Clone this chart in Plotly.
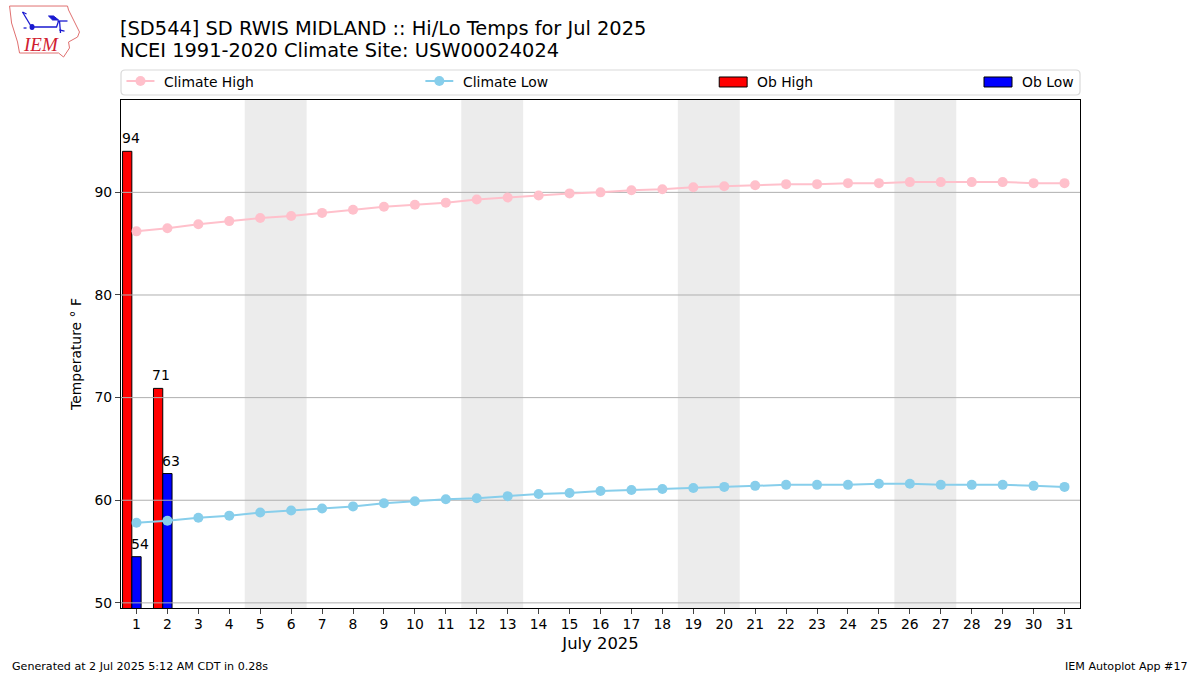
import pandas as pd
import plotly.graph_objects as go

def px(x, y):
    # Pixel position on the page to paper coordinates of the plot area
    return (x - 120.5) / 959.5, (608 - y) / 508

def path(points, close=False):
    parts = ["%s%.4f,%.4f" % ("L" if i else "M", *px(*p)) for i, p in enumerate(points)]
    return " ".join(parts) + (" Z" if close else "")

def exec(df):
    fig = go.Figure()

    # Weekends get a grey band behind everything
    for day in [5, 12, 19, 26]:
        fig.add_vrect(x0=day - 0.5, x1=day + 1.5, fillcolor='#ececec', line_width=0, layer='below')

    # Grid as lines so that it sits above the bars but below the climate lines
    for temp in [50, 60, 70, 80, 90]:
        fig.add_trace(go.Scatter(
            x=[0.5, 31.5],
            y=[temp, temp],
            mode='lines',
            line=dict(color='#b0b0b0', width=1),
            showlegend=False,
            hoverinfo='skip'
        ))

    # Add climate lines
    fig.add_trace(go.Scatter(
        x=df['day'],
        y=df['climate_high'],
        name='Climate High',
        mode='lines+markers',
        line=dict(color='pink', width=2),
        marker=dict(color='pink', size=10),
        showlegend=False
    ))
    fig.add_trace(go.Scatter(
        x=df['day'],
        y=df['climate_low'],
        name='Climate Low',
        mode='lines+markers',
        line=dict(color='skyblue', width=2),
        marker=dict(color='skyblue', size=10),
        showlegend=False
    ))

    # Add bars for the observations
    fig.add_trace(go.Bar(
        x=df['day'],
        y=df['ob_high'],
        name='Ob High',
        width=0.3,
        offset=-0.45,
        base=0,
        marker=dict(color='red', line=dict(color='black', width=1)),
        showlegend=False
    ))
    fig.add_trace(go.Bar(
        x=df['day'],
        y=df['ob_low'],
        name='Ob Low',
        width=0.3,
        offset=-0.15,
        base=0,
        marker=dict(color='blue', line=dict(color='black', width=1)),
        showlegend=False
    ))

    # Value labels sit on the left corner of each bar
    for day, high, low in zip(df['day'], df['ob_high'], df['ob_low']):
        if pd.isna(high):
            continue
        for value, left in [(high, day - 0.45), (low, day - 0.15)]:
            fig.add_annotation(
                x=left, y=value,
                text="%.0f" % value,
                showarrow=False,
                xanchor='left', yanchor='bottom',
                xshift=-3, yshift=3,
                font=dict(size=14, color='black')
            )

    fig.update_layout(
        title=dict(
            text='[SD544] SD RWIS MIDLAND :: Hi/Lo Temps for Jul 2025',
            font=dict(size=19.4, color='black'),
            x=0.1,
            xanchor='left',
            y=0.968,
            yanchor='top'
        ),
        xaxis=dict(
            title=dict(text='July 2025', font=dict(size=16.4), standoff=6),
            range=[0.5, 31.5],
            tickvals=list(df['day']),
            ticks='outside',
            ticklen=5,
            ticklabelstandoff=-2,
            showgrid=False,
            zeroline=False,
            showline=True,
            linecolor='black',
            mirror=True
        ),
        yaxis=dict(
            title=dict(text='Temperature ° F', font=dict(size=13.9), standoff=9),
            range=[49.5, 99],
            tickvals=[50, 60, 70, 80, 90],
            ticks='outside',
            ticklen=5,
            showgrid=False,
            zeroline=False,
            showline=True,
            linecolor='black',
            mirror=True
        ),
        font=dict(family='DejaVu Sans', size=13.9, color='black'),
        plot_bgcolor='white',
        paper_bgcolor='white',
        barmode='overlay',
        margin=dict(t=100, l=120.5, r=120, b=67),
        width=1200,
        height=675
    )

    # Second title line
    fig.add_annotation(
        text='NCEI 1991-2020 Climate Site: USW00024024',
        xref='paper', yref='paper',
        x=0, y=px(0, 51)[1],
        xanchor='left', yanchor='middle',
        xshift=-3,
        showarrow=False,
        font=dict(size=19.4)
    )

    # Legend frame with round corners, one row of four entries
    x0, y0 = px(120.5, 95)
    x1, y1 = px(1080, 70)
    rx, ry = 4 / 959.5, 4 / 508
    fig.add_shape(
        type='path',
        path="M%.4f,%.4f L%.4f,%.4f Q%.4f,%.4f %.4f,%.4f L%.4f,%.4f Q%.4f,%.4f %.4f,%.4f "
             "L%.4f,%.4f Q%.4f,%.4f %.4f,%.4f L%.4f,%.4f Q%.4f,%.4f %.4f,%.4f Z" % (
                 x0 + rx, y0, x1 - rx, y0, x1, y0, x1, y0 + ry,
                 x1, y1 - ry, x1, y1, x1 - rx, y1,
                 x0 + rx, y1, x0, y1, x0, y1 - ry,
                 x0, y0 + ry, x0, y0, x0 + rx, y0),
        xref='paper', yref='paper',
        line=dict(color='#d9d9d9', width=1.2)
    )
    for name, left, color, kind in [('Climate High', 126, 'pink', 'line'),
                                    ('Climate Low', 425, 'skyblue', 'line'),
                                    ('Ob High', 719, 'red', 'bar'),
                                    ('Ob Low', 984, 'blue', 'bar')]:
        if kind == 'line':
            fig.add_shape(type='path', path=path([(left, 81), (left + 28, 81)]),
                          xref='paper', yref='paper', line=dict(color=color, width=2))
            fig.add_shape(type='circle', x0=px(left + 9, 0)[0], x1=px(left + 19, 0)[0],
                          y0=px(0, 86)[1], y1=px(0, 76)[1],
                          xref='paper', yref='paper', fillcolor=color, line_width=0)
        else:
            fig.add_shape(type='path', path=path([(left, 77), (left + 28, 77), (left + 28, 87), (left, 87)], close=True),
                          xref='paper', yref='paper', fillcolor=color, line=dict(color='black', width=1))
        fig.add_annotation(
            text=name,
            xref='paper', yref='paper',
            x=px(left + 36, 0)[0], y=px(0, 82)[1],
            xanchor='left', yanchor='middle',
            showarrow=False,
            font=dict(size=13.9)
        )

    # Logo in the top left corner
    outline = [(9, 6), (67, 6), (68, 10), (73, 20), (79, 32), (77, 37), (68, 42), (69, 48),
               (63, 57), (58, 53), (19, 53), (17, 42), (11, 23)]
    fig.add_shape(type='path', path=path(outline, close=True), xref='paper', yref='paper',
                  line=dict(color='#e07070', width=1))
    for piece in [[(31, 27), (56, 27), (58, 21)], [(57, 21), (67, 21)], [(59, 21), (60, 33)],
                  [(59, 30), (64, 31)], [(22, 12), (31, 27)], [(22, 12), (26, 14)], [(23, 28), (26, 28)]]:
        fig.add_shape(type='path', path=path(piece), xref='paper', yref='paper',
                      line=dict(color='#1a1ad0', width=1.3))
    fig.add_shape(type='path', path=path([(48, 16), (53, 16), (58, 20), (52, 20)], close=True),
                  xref='paper', yref='paper', fillcolor='#1a1ad0', line=dict(color='#1a1ad0', width=1))
    fig.add_shape(type='circle', x0=px(29, 0)[0], x1=px(34, 0)[0], y0=px(0, 30)[1], y1=px(0, 24)[1],
                  xref='paper', yref='paper', fillcolor='#1a1ad0', line_width=0)
    fig.add_annotation(
        text='<i>IEM</i>',
        xref='paper', yref='paper',
        x=px(20, 0)[0], y=px(0, 45)[1],
        xanchor='left', yanchor='middle',
        showarrow=False,
        font=dict(family='Liberation Serif', size=19, color='#d02030')
    )

    # Footer texts
    fig.add_annotation(
        text='Generated at 2 Jul 2025 5:12 AM CDT in 0.28s',
        xref='paper', yref='paper',
        x=px(9, 0)[0], y=px(0, 666)[1],
        xanchor='left', yanchor='middle',
        showarrow=False,
        font=dict(size=11.1)
    )
    fig.add_annotation(
        text='IEM Autoplot App #17',
        xref='paper', yref='paper',
        x=px(1190, 0)[0], y=px(0, 666)[1],
        xanchor='right', yanchor='middle',
        showarrow=False,
        font=dict(size=11.1)
    )

    fig.write_html("out.html", config=dict(displayModeBar=False), post_script="document.body.style.margin = '0';")

climate_high = [86.2, 86.5, 86.9, 87.2, 87.5, 87.7, 88.0, 88.3, 88.6, 88.8, 89.0,
                89.3, 89.5, 89.7, 89.9, 90.0, 90.2, 90.3, 90.5, 90.6, 90.7, 90.8,
                90.8, 90.9, 90.9, 91.0, 91.0, 91.0, 91.0, 90.9, 90.9]
climate_low = [57.8, 58.0, 58.3, 58.5, 58.8, 59.0, 59.2, 59.4, 59.7, 59.9, 60.1,
               60.2, 60.4, 60.6, 60.7, 60.9, 61.0, 61.1, 61.2, 61.3, 61.4, 61.5,
               61.5, 61.5, 61.6, 61.6, 61.5, 61.5, 61.5, 61.4, 61.3]
ob_high = [94.0, 70.9] + [None] * 29
ob_low = [54.5, 62.6] + [None] * 29

exec(pd.DataFrame({
    'day': list(range(1, 32)),
    'climate_high': climate_high,
    'climate_low': climate_low,
    'ob_high': ob_high,
    'ob_low': ob_low
}))
